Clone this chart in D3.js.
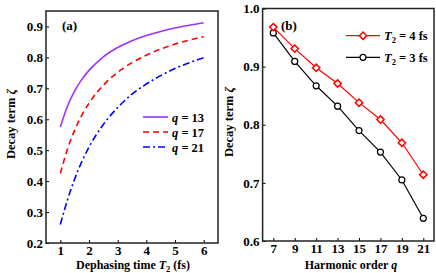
<!DOCTYPE html>
<html>
<head>
<meta charset="utf-8">
<script src="https://cdn.jsdelivr.net/npm/d3@7"></script>
<style>
body { margin: 0; background: #fff; }
svg text { font-family: "Liberation Serif", "Times New Roman", serif; font-weight: bold; }
</style>
</head>
<body>
<script>
// panel (a) data: decay term vs dephasing time
var t2Values = [1, 1.25, 1.5, 1.75, 2, 2.5, 3, 3.5, 4, 4.5, 5, 5.5, 6];
var zetaQ13 = [0.575, 0.643, 0.692, 0.729, 0.758, 0.802, 0.832, 0.854, 0.871, 0.884, 0.895, 0.904, 0.912];
var zetaQ17 = [0.425, 0.504, 0.565, 0.613, 0.652, 0.710, 0.752, 0.783, 0.807, 0.827, 0.843, 0.856, 0.867];
var zetaQ21 = [0.260, 0.340, 0.407, 0.463, 0.510, 0.583, 0.638, 0.681, 0.714, 0.741, 0.764, 0.783, 0.799];
var seriesA = ["q = 13", "q = 17", "q = 21"];

// panel (b) data: decay term vs harmonic order
var orders = [7, 9, 11, 13, 15, 17, 19, 21];
var zetaT4 = [0.968, 0.931, 0.898, 0.871, 0.838, 0.809, 0.769, 0.714];
var zetaT3 = [0.958, 0.909, 0.867, 0.832, 0.790, 0.753, 0.705, 0.639];

var ticksA_x = [1, 2, 3, 4, 5, 6];
var ticksA_y = [0.2, 0.3, 0.4, 0.5, 0.6, 0.7, 0.8, 0.9];
var ticksB_x = [7, 9, 11, 13, 15, 17, 19, 21];
var ticksB_y = [0.6, 0.7, 0.8, 0.9, 1.0];

var svg = d3.select("body").append("svg")
    .attr("width", 436)
    .attr("height", 273);

// helper to draw a framed box with inward ticks
function drawFrame(x, y, xTicks, yTicks, xFmt, yFmt) {
    var g = svg.append("g");
    var x0 = x.range()[0], x1 = x.range()[1];
    var y0 = y.range()[0], y1 = y.range()[1];

    g.append("g")
        .attr("transform", "translate(0," + y0 + ")")
        .call(d3.axisBottom(x).tickValues(xTicks).tickFormat(xFmt).tickSizeInner(-3).tickSizeOuter(0).tickPadding(3))
        .call(function(a) { a.select(".domain").remove(); });
    g.append("g")
        .attr("transform", "translate(" + x0 + ",0)")
        .call(d3.axisLeft(y).tickValues(yTicks).tickFormat(yFmt).tickSizeInner(-3).tickSizeOuter(0).tickPadding(3))
        .call(function(a) { a.select(".domain").remove(); });

    g.selectAll("g").attr("font-family", "Liberation Serif").attr("font-size", 13);
    g.selectAll(".tick text").attr("fill", "#000")
        .style("font-family", "'Liberation Serif', serif").style("font-weight", "bold");
    g.selectAll(".tick line").attr("stroke", "#000");

    g.append("rect")
        .attr("x", x0).attr("y", y1)
        .attr("width", x1 - x0).attr("height", y0 - y1)
        .attr("fill", "none").attr("stroke", "#222").attr("stroke-width", 1.5);
    return g;
}

// ---------- panel (a) ----------
var xA = d3.scaleLinear().domain([0.5, 6.5]).range([46, 218]);
var yA = d3.scaleLinear().domain([0.2, 0.95]).range([243, 11]);

var colorsA = ["#9933ff", "#ff0000", "#0000ff"];
var dashA = [null, "6,4", "7,3,2,3"];
var dataA = [zetaQ13, zetaQ17, zetaQ21];

var lineA = d3.line()
    .x(function(d, i) { return xA(t2Values[i]); })
    .y(function(d) { return yA(d); })
    .curve(d3.curveMonotoneX);

dataA.forEach(function(s, k) {
    svg.append("path")
        .attr("d", lineA(s))
        .attr("fill", "none")
        .attr("stroke", colorsA[k])
        .attr("stroke-width", 1.6)
        .attr("stroke-dasharray", dashA[k]);
});

drawFrame(xA, yA, ticksA_x, ticksA_y, d3.format("d"), d3.format(".1f"));

svg.append("text").attr("x", 62).attr("y", 30).attr("font-size", 13).text("(a)");

// legend (a)
seriesA.forEach(function(name, k) {
    var ly = 117 + k * 15;
    svg.append("line")
        .attr("x1", 143).attr("x2", 168).attr("y1", ly).attr("y2", ly)
        .attr("stroke", colorsA[k]).attr("stroke-width", 1.6)
        .attr("stroke-dasharray", dashA[k]);
    var t = svg.append("text").attr("x", 172).attr("y", ly + 4.5).attr("font-size", 12.5);
    t.append("tspan").attr("font-style", "italic").text("q");
    t.append("tspan").text(name.slice(1));
});

// axis titles (a)
var xtA = svg.append("text").attr("x", 133).attr("y", 269).attr("text-anchor", "middle").attr("font-size", 12);
xtA.append("tspan").text("Dephasing time  ");
xtA.append("tspan").attr("font-style", "italic").text("T");
xtA.append("tspan").attr("font-size", 8.5).attr("dy", 3).text("2");
xtA.append("tspan").attr("dy", -3).text(" (fs)");

var ytA = svg.append("text").attr("transform", "translate(15,124) rotate(-90)")
    .attr("text-anchor", "middle").attr("font-size", 12.5);
ytA.append("tspan").text("Decay term ");
ytA.append("tspan").attr("font-style", "italic").text("ζ");

// ---------- panel (b) ----------
var xB = d3.scaleLinear().domain([6, 22]).range([262.6, 434]);
var yB = d3.scaleLinear().domain([0.6, 1.0]).range([241, 8.5]);

var lineB = d3.line()
    .x(function(d, i) { return xB(orders[i]); })
    .y(function(d) { return yB(d); });

// T2 = 3 fs (black circles)
svg.append("path").attr("d", lineB(zetaT3))
    .attr("fill", "none").attr("stroke", "#000").attr("stroke-width", 1.2);
svg.selectAll(".c3").data(zetaT3).enter().append("circle")
    .attr("cx", function(d, i) { return xB(orders[i]); })
    .attr("cy", function(d) { return yB(d); })
    .attr("r", 3)
    .attr("fill", "#fff").attr("stroke", "#000").attr("stroke-width", 1.2);

// T2 = 4 fs (red diamonds)
var diamond = d3.symbol().type(d3.symbolDiamond2).size(34);
svg.append("path").attr("d", lineB(zetaT4))
    .attr("fill", "none").attr("stroke", "#ff0000").attr("stroke-width", 1.2);
svg.selectAll(".d4").data(zetaT4).enter().append("path")
    .attr("d", diamond)
    .attr("transform", function(d, i) { return "translate(" + xB(orders[i]) + "," + yB(d) + ")"; })
    .attr("fill", "#fff").attr("stroke", "#ff0000").attr("stroke-width", 1.5);

drawFrame(xB, yB, ticksB_x, ticksB_y, d3.format("d"), d3.format(".1f"));

svg.append("text").attr("x", 281).attr("y", 30).attr("font-size", 13).text("(b)");

// legend (b)
var legB = [
    {label: "4 fs", color: "#ff0000", marker: "diamond", y: 35.7},
    {label: "3 fs", color: "#000", marker: "circle", y: 57.3}
];
legB.forEach(function(l) {
    svg.append("line").attr("x1", 346).attr("x2", 380).attr("y1", l.y).attr("y2", l.y)
        .attr("stroke", l.color).attr("stroke-width", 1.2);
    if (l.marker == "diamond") {
        svg.append("path").attr("d", diamond).attr("transform", "translate(363," + l.y + ")")
            .attr("fill", "#fff").attr("stroke", l.color).attr("stroke-width", 1.5);
    } else {
        svg.append("circle").attr("cx", 363).attr("cy", l.y).attr("r", 3)
            .attr("fill", "#fff").attr("stroke", l.color).attr("stroke-width", 1.2);
    }
    var t = svg.append("text").attr("x", 384).attr("y", l.y + 4.5).attr("font-size", 12.5);
    t.append("tspan").attr("font-style", "italic").text("T");
    t.append("tspan").attr("font-size", 8.5).attr("dy", 3).text("2");
    t.append("tspan").attr("dy", -3).text(" = " + l.label);
});

// axis titles (b)
var xtB = svg.append("text").attr("x", 351).attr("y", 269).attr("text-anchor", "middle").attr("font-size", 12);
xtB.append("tspan").text("Harmonic order  ");
xtB.append("tspan").attr("font-style", "italic").text("q");

var ytB = svg.append("text").attr("transform", "translate(233,122) rotate(-90)")
    .attr("text-anchor", "middle").attr("font-size", 12.5);
ytB.append("tspan").text("Decay term ");
ytB.append("tspan").attr("font-style", "italic").text("ζ");
</script>
</body>
</html>
